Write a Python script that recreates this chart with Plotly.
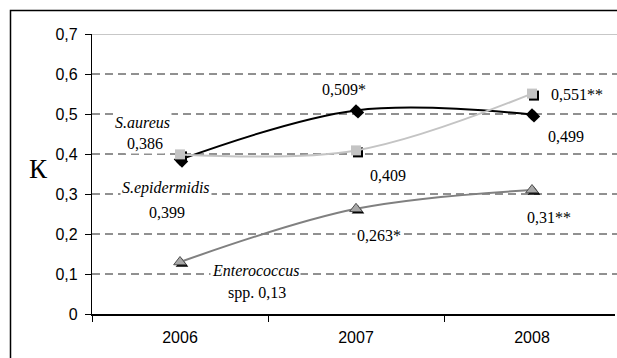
import plotly.graph_objects as go

years = ["2006", "2007", "2008"]
s_aureus = [0.386, 0.509, 0.499]
s_epidermidis = [0.399, 0.409, 0.551]
enterococcus = [0.13, 0.263, 0.31]

aureus_labels = ["0,386", "0,509*", "0,499"]
epi_labels = ["0,399", "0,409", "0,551**"]
entero_labels = ["spp. 0,13", "0,263*", "0,31**"]
names = ["S.aureus", "S.epidermidis", "Enterococcus"]

ytick_vals = [0, 0.1, 0.2, 0.3, 0.4, 0.5, 0.6, 0.7]
ytick_text = ["0", "0,1", "0,2", "0,3", "0,4", "0,5", "0,6", "0,7"]
y_label = "К"

W, H = 617, 358
ML, MR, MT, MB = 92, 0, 34, 42
PW, PH = W - ML - MR, H - MT - MB
SH = 2  # shadow offset in px
ex, ey = SH / PW, SH / PH
xr = [-0.5, -0.5 + (PW - SH) / 176.0]
yr = [0, 0.7]

fig = go.Figure()

# shadows (subplot x/y, shifted right/down)
for vals, sym, sz in [(s_aureus, "diamond", 9.5), (s_epidermidis, "square", 10),
                      (enterococcus, "triangle-up", 11)]:
    fig.add_trace(go.Scatter(x=years, y=vals, mode="markers", xaxis="x", yaxis="y",
                             marker=dict(symbol=sym, size=sz, color="black"),
                             hoverinfo="skip", showlegend=False))

# main series (subplot x2/y2)
fig.add_trace(go.Scatter(x=years, y=s_aureus, mode="lines+markers", xaxis="x2", yaxis="y2",
                         line=dict(color="black", width=2, shape="spline", smoothing=1),
                         marker=dict(symbol="diamond", size=9.5, color="black"),
                         showlegend=False))
fig.add_trace(go.Scatter(x=years, y=s_epidermidis, mode="lines+markers", xaxis="x2", yaxis="y2",
                         line=dict(color="#c4c4c4", width=2, shape="spline", smoothing=1),
                         marker=dict(symbol="square", size=10, color="#c4c4c4"),
                         showlegend=False))
fig.add_trace(go.Scatter(x=years, y=enterococcus, mode="lines+markers", xaxis="x2", yaxis="y2",
                         line=dict(color="#808080", width=2, shape="spline", smoothing=1),
                         marker=dict(symbol="triangle-up", size=11, color="#a8a8a8",
                                     line=dict(color="#505050", width=1)),
                         showlegend=False))

shapes = []
for v in ytick_vals[1:-1]:
    shapes.append(dict(type="line", xref="paper", x0=0, x1=1, yref="y2", y0=v, y1=v,
                       line=dict(color="#222222", width=1, dash="8px,5px"), layer="below"))
shapes.append(dict(type="line", xref="paper", x0=0, x1=1, yref="y2", y0=ytick_vals[-1], y1=ytick_vals[-1],
                   line=dict(color="#909090", width=1.2), layer="below"))
# outer frame
shapes.append(dict(type="rect", xref="paper", yref="paper",
                   x0=-(ML - 10.5) / PW, x1=1.1, y0=-0.3, y1=1 + (MT - 10.5) / PH,
                   line=dict(color="black", width=1.5), fillcolor="rgba(0,0,0,0)", layer="below"))

serif = "Liberation Serif, Times New Roman, serif"
ann = []

def lab(text, xi, v, dx, dy, italic=False):
    t = "<i>%s</i>" % text if italic else text
    ann.append(dict(text=t, x=xi, y=v, xref="x2", yref="y2", showarrow=False,
                    xshift=dx, yshift=dy, font=dict(family=serif, size=16, color="black"),
                    bgcolor="white", borderpad=1, xanchor="center", yanchor="middle"))

lab(names[0], 0, s_aureus[0], -38, 37.6, True)
lab(aureus_labels[0], 0, s_aureus[0], -35, 16.6)
lab(aureus_labels[1], 1, s_aureus[1], -12, 21.4)
lab(aureus_labels[2], 2, s_aureus[2], 34, -21.6)
lab(names[1], 0, s_epidermidis[0], -14, -33.6, True)
lab(epi_labels[0], 0, s_epidermidis[0], -13, -57.6)
lab(epi_labels[1], 1, s_epidermidis[1], 32, -24.6)
lab(epi_labels[2], 2, s_epidermidis[2], 45, -0.4)
lab(names[2], 0, enterococcus[0], 75, -8, True)
lab(entero_labels[0], 0, enterococcus[0], 77, -31)
lab(entero_labels[1], 1, enterococcus[1], 23, -26.2)
lab(entero_labels[2], 2, enterococcus[2], 17, -27)

ann.append(dict(text=y_label, xref="paper", yref="paper", x=(38 - ML) / PW,
                y=(H - MB - 169) / PH, showarrow=False, xanchor="center", yanchor="middle",
                font=dict(family=serif, size=27, color="black")))

arial = dict(family="Arial, Liberation Sans, sans-serif", size=16, color="black")
fig.update_layout(
    width=W, height=H,
    margin=dict(l=ML, r=MR, t=MT, b=MB, pad=0),
    paper_bgcolor="white", plot_bgcolor="rgba(0,0,0,0)",
    shapes=shapes, annotations=ann,
    xaxis=dict(domain=[ex, 1], type="category", range=xr, visible=False, fixedrange=True),
    yaxis=dict(domain=[0, 1 - ey], range=yr, visible=False, fixedrange=True),
    xaxis2=dict(domain=[0, 1 - ex], anchor="y2", type="category", range=xr,
                tickson="boundaries", ticks="outside", ticklen=6, tickcolor="black",
                tickwidth=1, showline=True, linecolor="black", linewidth=1.5,
                showgrid=False, zeroline=False, tickfont=arial, ticklabelstandoff=8),
    yaxis2=dict(domain=[ey, 1], anchor="x2", range=yr, tickvals=ytick_vals, ticktext=ytick_text,
                ticks="outside", ticklen=6, tickcolor="black", tickwidth=1,
                showline=True, linecolor="black", linewidth=1.3, showgrid=False,
                zeroline=False, tickfont=arial, ticklabelstandoff=4),
)

fig.write_html("out.html", config={"displayModeBar": False},
               post_script="document.body.style.margin='0';document.body.style.overflow='hidden';")
